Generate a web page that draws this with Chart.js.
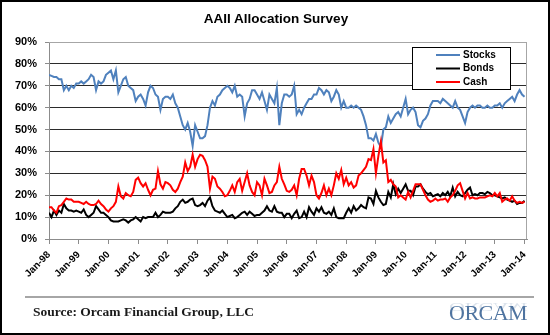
<!DOCTYPE html>
<html>
<head>
<meta charset="utf-8">
<script src="https://cdn.jsdelivr.net/npm/chart.js@4"></script>
<style>
  html, body { margin: 0; padding: 0; background: #fff; }
  #wrap { position: relative; width: 550px; height: 335px; background: #fff; overflow: hidden; }
  #chart { position: absolute; left: 0; top: 0; }
  #title { position: absolute; left: 0; top: 11px; width: 552px; text-align: center; font: bold 13.5px "Liberation Sans", Arial, sans-serif; line-height: 16px; color: #000; }
  #frame { position: absolute; left: 0; top: 0; width: 550px; height: 335px; box-sizing: border-box; border: 2px solid #000; pointer-events: none; }
  #rule { position: absolute; left: 25px; top: 296px; width: 509px; height: 2px; background: #a6a6a6; }
  #source { position: absolute; left: 33px; top: 304px; font: bold 13.5px "Liberation Serif", serif; color: #1a1a1a; }
  #logo { position: absolute; left: 449px; top: 300px; font: 22px "Liberation Serif", serif; color: #4f74a0; letter-spacing: -0.5px; }
  #logo .refl { position: absolute; left: 0; top: 15px; transform: scaleY(-0.6); transform-origin: top; opacity: 0.2; }
</style>
</head>
<body>
<div id="wrap">
  <canvas id="chart" width="550" height="300"></canvas>
  <div id="title">AAII Allocation Survey</div>
  <div id="rule"></div>
  <div id="source">Source: Orcam Financial Group, LLC</div>
  <div id="logo">ORCAM<div class="refl">ORCAM</div></div>
  <div id="frame"></div>
</div>
<script>
// x tick labels, one per January
const yearLabels = ['Jan-98', 'Jan-99', 'Jan-00', 'Jan-01', 'Jan-02', 'Jan-03', 'Jan-04', 'Jan-05', 'Jan-06',
                    'Jan-07', 'Jan-08', 'Jan-09', 'Jan-10', 'Jan-11', 'Jan-12', 'Jan-13', 'Jan-14'];

// monthly allocation in %, Jan-98 .. Jan-14
const stocks = [
  75, 74.5, 74, 74, 73, 73, 68, 70, 68, 70, 69, 71,
  71, 72, 71, 72, 73, 75, 74, 68, 72, 71, 72, 75,
  76, 77, 73, 77, 67, 70, 73, 74, 70, 69, 68, 63,
  65, 66, 64, 61, 67, 70, 69, 66, 65, 59, 64, 65,
  65, 64, 66, 62, 60, 56, 52, 50, 53, 49, 42.5, 52,
  49, 46, 46, 47, 52, 60, 63, 61, 65, 66, 68, 69,
  70, 69, 67, 70, 65, 66, 65, 56, 62, 64, 68, 68,
  66, 64, 67, 63, 59, 66, 64, 62, 69, 52, 62, 66,
  66, 65, 66, 70, 57, 59, 57, 60, 62, 64, 64, 66,
  66, 69, 68, 66, 68, 67, 63, 65, 68, 66, 60, 63,
  60, 60, 61, 60, 61, 60, 59, 56, 52, 46, 46, 45,
  48, 44, 42, 50, 51, 56, 53, 55, 57, 58, 56, 60,
  64, 57, 59, 60, 58, 52, 51, 54, 55, 57, 61, 63,
  63, 63, 62, 64, 63, 62, 61, 60, 63, 60, 59, 56,
  53, 58, 60, 61, 60, 61, 61, 60, 60, 61, 60, 60,
  61, 61, 62, 60, 62, 63, 64, 65, 63, 66, 68, 66,
  65
];
const bonds = [
  12, 10, 13, 11, 13, 12, 16, 14, 13, 13, 12.5, 13,
  12.5, 12, 13.5, 11, 10, 11, 12, 15, 13.5, 12, 12, 11,
  10, 8.5, 8, 8, 8, 8.5, 9, 8.5, 7.5, 8.5, 9, 10,
  9, 8, 10, 9.5, 10, 10, 10, 12, 10, 11, 12.5, 12,
  12, 12, 12.5, 14, 15, 17, 18, 16.5, 17, 18, 18.5, 15.5,
  15, 15.5, 16.5, 15, 17.5, 19, 15, 13, 12.5, 12, 13, 11.5,
  10, 10.5, 11, 9.5, 10, 11, 12, 12.5, 11, 12.5, 11.5, 10.5,
  11, 11, 12, 13, 15, 13, 12.5, 15, 12.5, 12, 12, 10,
  11.5, 11.5, 9.5, 11.5, 13, 9.5, 10, 12.5, 10, 14.5, 12.5, 11,
  14, 12.5, 14.5, 12, 11.5, 12.5, 11, 14, 10, 9.5, 9.5, 9.5,
  12, 14, 12, 15, 13, 14, 15.5, 14.5, 14, 19, 18.5, 16,
  22, 19, 17, 15.5, 16, 21.5, 19, 25, 20.5, 23, 21, 23,
  25, 22, 22, 20, 24, 24, 25, 23, 21.5, 20.5, 21, 19.5,
  20, 20.5, 19.5, 21, 20, 21.5, 19.5, 23.5, 19.5, 21.5, 20, 19.5,
  21, 22.5, 23.5, 20, 20.5, 20, 21, 21, 20.5, 21.5, 21, 20,
  20, 19.5, 19, 18.5, 19, 18, 17.5, 17, 17.5, 16, 16.5, 16.5,
  17.5
];
const cash = [
  14.5, 14.5, 13, 12, 15, 15.5, 17, 18.5, 18, 18, 17, 17,
  17, 16.5, 16, 17, 16, 15.5, 15.5, 16, 17.5, 16, 15, 13.5,
  12.5, 14, 15, 17, 24, 19.5, 18.5, 21, 20, 19.5, 21.5, 27,
  28, 25.5, 24, 25.5, 22.5, 20, 22.5, 23, 31, 25, 23, 26,
  25.5, 24.5, 22.5, 21.5, 23, 26, 28.5, 35, 31, 33, 38.5, 33,
  36.5, 38.5, 38, 36, 33, 23, 28.5, 27.5, 24, 23, 21.5, 19.5,
  20, 22, 24.5, 21.5, 26, 27.5, 22, 26, 30, 24.5, 21.5, 20,
  26, 24.5, 20, 27.5, 24.5, 21, 21.5, 24.5, 26, 33, 27.5, 25,
  22, 21.5, 22.5, 24.5, 20, 27.5, 32, 32, 29, 24.5, 29, 26,
  20, 18.5, 21, 24.5, 20, 23, 20, 24.5, 30, 27.5, 31.5, 25,
  28, 24.5, 26, 23.5, 24.5, 29, 30, 31.5, 33, 36.5, 36, 41,
  30, 38, 44.5, 35, 36, 26, 27, 25, 24, 19, 20, 19,
  18, 21.5, 19, 22, 25, 25, 25, 22.5, 20, 18, 17, 17.5,
  18.5, 17.5, 18, 18, 18.5, 17, 19, 20, 22, 24.5, 25.5, 22,
  18.5, 21, 18.5, 19, 18.5, 18.5, 19, 19, 19, 19.5, 20, 19.5,
  21, 19.5, 21, 17, 18, 18.5, 17.5, 19.5, 17.5, 16.5, 17, 16.5,
  17
];

const months = stocks.map((v, i) => i);
const FONT = '"Liberation Sans", Arial, sans-serif';

// legend box drawn inside the plot, like the Excel original
const boxLegend = {
  id: 'boxLegend',
  beforeDatasetsDraw(chart) {
    const a = chart.chartArea;
    const ctx = chart.ctx;
    ctx.save();
    ctx.strokeStyle = '#a6a6a6';
    ctx.lineWidth = 1;
    ctx.beginPath();
    ctx.moveTo(a.left, a.top + 0.5);
    ctx.lineTo(a.right - 0.5, a.top + 0.5);
    ctx.lineTo(a.right - 0.5, a.bottom);
    ctx.stroke();
    ctx.restore();
  },
  afterDatasetsDraw(chart) {
    const ctx = chart.ctx;
    const x = 412, y = 47, w = 98, h = 42;
    ctx.save();
    ctx.fillStyle = '#fff';
    ctx.fillRect(x, y, w, h);
    ctx.strokeStyle = '#000';
    ctx.lineWidth = 1;
    ctx.strokeRect(x + 0.5, y + 0.5, w, h);
    ctx.font = 'bold 10px ' + FONT;
    ctx.textBaseline = 'middle';
    ctx.fillStyle = '#000';
    chart.data.datasets.forEach((ds, i) => {
      const ry = y + 8 + i * 13.5;
      ctx.strokeStyle = ds.borderColor;
      ctx.lineWidth = 2;
      ctx.beginPath();
      ctx.moveTo(436, ry);
      ctx.lineTo(460, ry);
      ctx.stroke();
      ctx.fillText(ds.label, 463, ry);
    });
    ctx.restore();
  }
};

new Chart(document.getElementById('chart').getContext('2d'), {
  type: 'line',
  data: {
    labels: months,
    datasets: [
      { label: 'Stocks', data: stocks, borderColor: '#4f81bd', order: 2 },
      { label: 'Bonds', data: bonds, borderColor: '#000000', order: 1 },
      { label: 'Cash', data: cash, borderColor: '#ff0000', order: 0 }
    ]
  },
  options: {
    responsive: false,
    animation: false,
    layout: { padding: { left: 0, right: 23, top: 42, bottom: 0 } },
    elements: {
      line: { borderWidth: 2, tension: 0, fill: false },
      point: { radius: 0 }
    },
    scales: {
      x: {
        type: 'linear',
        min: 0,
        max: 193,
        afterFit: (s) => { s.height = 61; },
        border: { color: '#8c8c8c', width: 1 },
        grid: { drawOnChartArea: false, drawTicks: true, tickLength: 5, color: '#8c8c8c' },
        ticks: {
          stepSize: 12,
          includeBounds: false,
          autoSkip: false,
          minRotation: 45,
          maxRotation: 45,
          padding: 5,
          color: '#000',
          font: { family: FONT, size: 10, weight: 'bold' },
          callback: (v) => yearLabels[v / 12]
        }
      },
      y: {
        min: 0,
        max: 90,
        afterFit: (s) => { s.width = 49; },
        border: { color: '#8c8c8c', width: 1 },
        grid: {
          color: (c) => c.tick.value === 90 ? '#a6a6a6' : '#2b2b2b',
          tickLength: 4,
          tickColor: '#8c8c8c'
        },
        ticks: {
          stepSize: 10,
          padding: 8,
          color: '#000',
          font: { family: FONT, size: 11, weight: 'bold' },
          callback: (v) => v + '%'
        }
      }
    },
    plugins: {
      legend: { display: false },
      tooltip: { enabled: false },
      title: { display: false }
    }
  },
  plugins: [boxLegend]
});
</script>
</body>
</html>
